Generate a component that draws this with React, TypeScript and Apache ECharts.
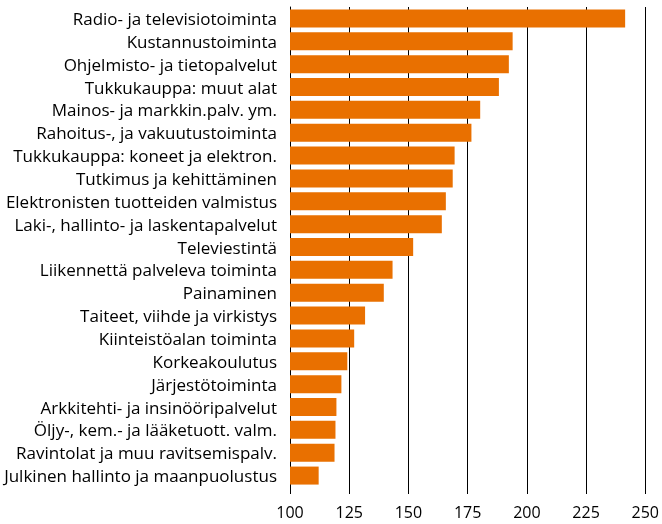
import React, { useEffect, useRef } from "react";
import * as echarts from "echarts";

const categories: string[] = [
  "Radio- ja televisiotoiminta",
  "Kustannustoiminta",
  "Ohjelmisto- ja tietopalvelut",
  "Tukkukauppa: muut alat",
  "Mainos- ja markkin.palv. ym.",
  "Rahoitus-, ja vakuutustoiminta",
  "Tukkukauppa: koneet ja elektron.",
  "Tutkimus ja kehittäminen",
  "Elektronisten tuotteiden valmistus",
  "Laki-, hallinto- ja laskentapalvelut",
  "Televiestintä",
  "Liikennettä palveleva toiminta",
  "Painaminen",
  "Taiteet, viihde ja virkistys",
  "Kiinteistöalan toiminta",
  "Korkeakoulutus",
  "Järjestötoiminta",
  "Arkkitehti- ja insinööripalvelut",
  "Öljy-, kem.- ja lääketuott. valm.",
  "Ravintolat ja muu ravitsemispalv.",
  "Julkinen hallinto ja maanpuolustus",
];

const values: number[] = [
  241.5, 194.0, 192.4, 188.2, 180.3, 176.6, 169.5, 168.7, 165.8, 164.1, 152.0,
  143.3, 139.6, 131.7, 127.1, 124.2, 121.7, 119.6, 119.2, 118.8, 112.1,
];

const xMin = 100;
const xMax = 250;
const xInterval = 25;

export default function App() {
  const ref = useRef<HTMLDivElement>(null);
  useEffect(() => {
    if (!ref.current) return;
    const chart = echarts.init(ref.current, null, { renderer: "svg" });
    chart.setOption({
      animation: false,
      textStyle: { fontFamily: "Open Sans" },
      grid: { left: 290, right: 11, top: 7, bottom: 37, containLabel: false },
      xAxis: {
        type: "value",
        min: xMin,
        max: xMax,
        interval: xInterval,
        axisLine: { show: false },
        axisTick: { show: true, length: 7, lineStyle: { color: "#000", width: 1 } },
        splitLine: { show: true, lineStyle: { color: "#000", width: 1 } },
        axisLabel: {
          color: "#000",
          fontSize: 16,
          fontFamily: "Open Sans",
          margin: 17,
        },
      },
      yAxis: {
        type: "category",
        data: categories,
        inverse: true,
        axisLine: { show: true, lineStyle: { color: "#000", width: 1 } },
        axisTick: { show: false },
        axisLabel: {
          color: "#000",
          fontSize: 17,
          fontFamily: "Open Sans",
          margin: 13,
        },
      },
      series: [
        {
          type: "bar",
          data: values,
          barWidth: 18,
          itemStyle: { color: "#E97000" },
        },
      ],
    });
    return () => chart.dispose();
  }, []);
  return (
    <div
      ref={ref}
      style={{ position: "fixed", left: 0, top: 0, width: 662, height: 524 }}
    />
  );
}
